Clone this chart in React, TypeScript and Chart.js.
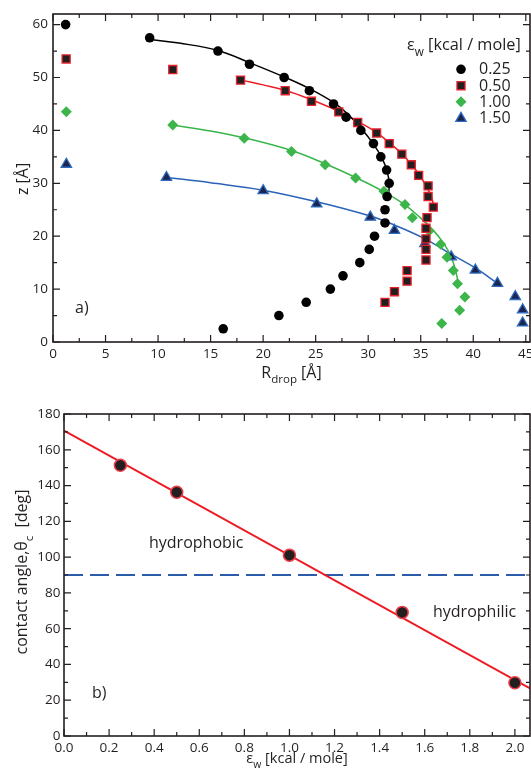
import React, { useEffect, useRef } from 'react';
import { Chart, registerables } from 'chart.js';

Chart.register(...registerables);

const FONT = "'Open Sans', sans-serif";
const INK = '#231f20';

// ---------- Panel a) : droplet profiles z vs R_drop ----------
const z025 = [60, 57.5, 55, 52.5, 50, 47.5, 45, 42.5, 40, 37.5, 35, 32.5, 30, 27.5, 25, 22.5, 20, 17.5, 15, 12.5, 10, 7.5, 5, 2.5];
const r025 = [1.2, 9.2, 15.7, 18.7, 22.0, 24.4, 26.7, 27.9, 29.3, 30.5, 31.2, 31.75, 32.0, 31.8, 31.6, 31.6, 30.6, 30.1, 29.2, 27.6, 26.4, 24.1, 21.5, 16.2];

const z050 = [53.5, 51.5, 49.5, 47.5, 45.5, 43.5, 41.5, 39.5, 37.5, 35.5, 33.5, 31.5, 29.5, 27.5, 25.5, 23.5, 21.5, 19.5, 17.5, 15.5, 13.5, 11.5, 9.5, 7.5];
const r050 = [1.25, 11.4, 17.85, 22.1, 24.6, 27.2, 29.0, 30.8, 32.0, 33.2, 34.1, 34.8, 35.7, 35.7, 36.2, 35.6, 35.5, 35.5, 35.5, 35.5, 33.7, 33.7, 32.5, 31.6];

const z100 = [43.5, 41, 38.5, 36, 33.5, 31, 28.5, 26, 23.5, 21, 18.5, 16, 13.5, 11, 8.5, 6, 3.5];
const r100 = [1.27, 11.4, 18.2, 22.7, 25.9, 28.8, 31.5, 33.5, 34.2, 35.8, 36.9, 37.5, 38.1, 38.5, 39.2, 38.7, 37.0];

const z150 = [33.6, 31.1, 28.6, 26.1, 23.6, 21.1, 18.6, 16.1, 13.6, 11.1, 8.6, 6.1, 3.6];
const r150 = [1.27, 10.8, 20.0, 25.1, 30.2, 32.5, 35.4, 37.9, 40.2, 42.3, 44.0, 44.7, 44.7];

// fitted profile curves
const fitR025 = [9.2, 12.0, 15.7, 18.7, 22.0, 24.4, 26.7, 28.0, 29.4, 30.5, 31.3, 31.8, 32.0, 31.9];
const fitZ025 = [57.2, 56.5, 55.1, 52.8, 50.1, 47.9, 45.3, 43.2, 40.2, 37.4, 34.8, 32.3, 29.8, 27.3];
const fitR050 = [17.9, 20.0, 22.1, 24.6, 27.2, 29.0, 30.8, 32.0, 33.2, 34.1, 34.9, 35.5, 36.0, 36.3];
const fitZ050 = [49.5, 48.6, 47.6, 45.8, 43.6, 41.7, 39.6, 37.7, 35.6, 33.6, 31.5, 29.5, 27.5, 25.3];
const fitR100 = [11.4, 15.0, 18.2, 22.7, 25.9, 28.8, 31.3, 33.3, 34.9, 36.2, 37.2, 37.9, 38.3, 38.6];
const fitZ100 = [41.0, 39.9, 38.6, 36.2, 33.7, 31.1, 28.6, 26.2, 23.6, 21.1, 18.6, 16.1, 13.6, 11.0];
const fitR150 = [10.8, 15.0, 20.0, 25.1, 30.2, 32.5, 35.4, 37.9, 40.2, 42.3];
const fitZ150 = [31.1, 30.1, 28.7, 26.5, 23.8, 22.1, 19.5, 16.6, 14.0, 11.1];

const seriesLabels = ['0.25', '0.50', '1.00', '1.50'];
const topXTicks = [0, 5, 10, 15, 20, 25, 30, 35, 40, 45];
const topYTicks = [0, 10, 20, 30, 40, 50, 60];

// ---------- Panel b) : contact angle vs eps_w ----------
const epsW = [0.25, 0.5, 1.0, 1.5, 2.0];
const theta = [151.3, 136.3, 101.1, 69.1, 29.8];
const fitEps = [0, 2.07];
const fitTheta = [170.7, 26.4];
const neutralEps = [0, 2.07];
const neutralTheta = [90, 90];
const botXTicks = [0, 0.2, 0.4, 0.6, 0.8, 1.0, 1.2, 1.4, 1.6, 1.8, 2.0];
const botYTicks = [0, 20, 40, 60, 80, 100, 120, 140, 160, 180];

const pts = (xs: number[], ys: number[]) => xs.map((x, i) => ({ x, y: ys[i] }));

type Part = { t: string; sub?: boolean };
function drawParts(ctx: CanvasRenderingContext2D, parts: Part[], x: number, y: number, size: number, align: 'left' | 'center') {
  const subSize = size * 0.72;
  const widths = parts.map((p) => {
    ctx.font = `${p.sub ? subSize : size}px ${FONT}`;
    return ctx.measureText(p.t).width;
  });
  const total = widths.reduce((s, w) => s + w, 0);
  let cx = align === 'center' ? x - total / 2 : x;
  ctx.textAlign = 'left';
  ctx.textBaseline = 'alphabetic';
  parts.forEach((p, i) => {
    ctx.font = `${p.sub ? subSize : size}px ${FONT}`;
    ctx.fillText(p.t, cx, p.sub ? y + size * 0.35 : y);
    cx += widths[i];
  });
}

function minorOf(majors: number[], step: number, min: number, max: number) {
  const out: number[] = [];
  const cand = [majors[0] - step / 2, ...majors.map((v) => v + step / 2)];
  cand.forEach((v) => {
    if (v > min + 1e-9 && v < max - 1e-9) out.push(v);
  });
  return out;
}

function framePlugin(xMajor: number[], xStep: number, yMajor: number[], yStep: number, extra: (chart: any, ctx: CanvasRenderingContext2D) => void) {
  return {
    id: 'frame',
    afterDraw(chart: any) {
      const { ctx, chartArea: a, scales } = chart;
      const xs = scales.x;
      const ys = scales.y;
      ctx.save();
      ctx.strokeStyle = INK;
      ctx.lineWidth = 1.2;
      const xMinor = minorOf(xMajor, xStep, xs.min, xs.max);
      const yMinor = minorOf(yMajor, yStep, ys.min, ys.max);
      const drawX = (vals: number[], len: number) => {
        vals.forEach((v) => {
          const px = xs.getPixelForValue(v);
          ctx.beginPath();
          ctx.moveTo(px, a.bottom);
          ctx.lineTo(px, a.bottom - len);
          ctx.moveTo(px, a.top);
          ctx.lineTo(px, a.top + len);
          ctx.stroke();
        });
      };
      const drawY = (vals: number[], len: number) => {
        vals.forEach((v) => {
          const py = ys.getPixelForValue(v);
          ctx.beginPath();
          ctx.moveTo(a.left, py);
          ctx.lineTo(a.left + len, py);
          ctx.moveTo(a.right, py);
          ctx.lineTo(a.right - len, py);
          ctx.stroke();
        });
      };
      drawX(xMajor, 7);
      drawX(xMinor, 4);
      drawY(yMajor, 7);
      drawY(yMinor, 4);
      ctx.lineWidth = 1.6;
      ctx.strokeRect(a.left, a.top, a.right - a.left, a.bottom - a.top);
      ctx.fillStyle = INK;
      extra(chart, ctx);
      ctx.restore();
    },
  };
}

function axisCfg(min: number, max: number, ticks: number[], size: number, padding: number, isX: boolean, fmt?: (v: number) => string) {
  return {
    type: 'linear' as const,
    min,
    max,
    grid: { display: false, drawTicks: false },
    border: { display: false },
    ticks: {
      font: { family: FONT, size: 13.5 },
      color: INK,
      padding,
      autoSkip: false,
      maxRotation: 0,
      includeBounds: false,
      callback: (v: any) => (fmt ? fmt(Number(v)) : String(v)),
    },
    afterBuildTicks: (s: any) => {
      s.ticks = ticks.map((value) => ({ value }));
    },
    afterFit: (s: any) => {
      if (isX) s.height = size;
      else s.width = size;
      s.paddingLeft = 0;
      s.paddingRight = 0;
      s.paddingTop = 0;
      s.paddingBottom = 0;
    },
  };
}

export default function App() {
  const topRef = useRef<HTMLCanvasElement>(null);
  const botRef = useRef<HTMLCanvasElement>(null);

  useEffect(() => {
    const markerColors = [
      { style: 'circle', r: 4.8, fill: '#000000', stroke: '#000000', bw: 0 },
      { style: 'rect', r: 5.7, fill: '#231f20', stroke: '#e8222b', bw: 1.3 },
      { style: 'rectRot', r: 5.5, fill: '#3cb54a', stroke: '#3cb54a', bw: 0 },
      { style: 'triangle', r: 6.0, fill: '#1b2550', stroke: '#2f6cc0', bw: 1.3 },
    ];
    const markerSets = [pts(r025, z025), pts(r050, z050), pts(r100, z100), pts(r150, z150)];
    const fits = [
      { d: pts(fitR025, fitZ025), c: '#000000' },
      { d: pts(fitR050, fitZ050), c: '#ed1c24' },
      { d: pts(fitR100, fitZ100), c: '#39b54a' },
      { d: pts(fitR150, fitZ150), c: '#2a62b8' },
    ];

    const topDatasets: any[] = [
      ...markerSets.map((d, i) => ({
        label: seriesLabels[i],
        data: d,
        showLine: false,
        pointStyle: markerColors[i].style,
        pointRadius: markerColors[i].r,
        pointBackgroundColor: markerColors[i].fill,
        pointBorderColor: markerColors[i].stroke,
        pointBorderWidth: markerColors[i].bw,
      })),
      ...fits.map((f) => ({
        label: 'fit',
        data: f.d,
        showLine: true,
        pointRadius: 0,
        borderColor: f.c,
        borderWidth: 1.5,
        tension: 0.4,
        fill: false,
      })),
    ];

    const drawLegendMarker = (ctx: CanvasRenderingContext2D, i: number, x: number, y: number) => {
      const m = markerColors[i];
      ctx.beginPath();
      if (m.style === 'circle') {
        ctx.arc(x, y, m.r, 0, Math.PI * 2);
      } else if (m.style === 'rect') {
        const s = m.r * Math.SQRT1_2;
        ctx.rect(x - s, y - s, 2 * s, 2 * s);
      } else if (m.style === 'rectRot') {
        ctx.moveTo(x, y - m.r);
        ctx.lineTo(x + m.r, y);
        ctx.lineTo(x, y + m.r);
        ctx.lineTo(x - m.r, y);
        ctx.closePath();
      } else {
        ctx.moveTo(x, y - m.r);
        ctx.lineTo(x + m.r * Math.sin((2 * Math.PI) / 3), y - m.r * Math.cos((2 * Math.PI) / 3));
        ctx.lineTo(x + m.r * Math.sin((4 * Math.PI) / 3), y - m.r * Math.cos((4 * Math.PI) / 3));
        ctx.closePath();
      }
      ctx.fillStyle = m.fill;
      ctx.fill();
      if (m.bw > 0) {
        ctx.lineWidth = m.bw;
        ctx.strokeStyle = m.stroke;
        ctx.stroke();
      }
    };

    const topExtra = (chart: any, ctx: CanvasRenderingContext2D) => {
      const a = chart.chartArea;
      ctx.fillStyle = INK;
      // x title
      drawParts(ctx, [{ t: 'R' }, { t: 'drop', sub: true }, { t: ' [Å]' }], (a.left + a.right) / 2, 377.5, 16, 'center');
      // y title
      ctx.save();
      ctx.translate(28, (a.top + a.bottom) / 2 + 1);
      ctx.rotate(-Math.PI / 2);
      drawParts(ctx, [{ t: 'z [Å]' }], 0, 0, 16, 'center');
      ctx.restore();
      // panel label
      ctx.font = `16px ${FONT}`;
      ctx.textAlign = 'left';
      ctx.textBaseline = 'middle';
      ctx.fillText('a)', 75, 308);
      // legend
      drawParts(ctx, [{ t: 'ε' }, { t: 'w', sub: true }, { t: ' [kcal / mole]' }], 407, 50, 16.3, 'left');
      const ly = [69.3, 85.7, 101.7, 118.3];
      seriesLabels.forEach((lab, i) => {
        drawLegendMarker(ctx, i, 461, ly[i]);
        ctx.fillStyle = INK;
        ctx.font = `16px ${FONT}`;
        ctx.textAlign = 'left';
        ctx.textBaseline = 'middle';
        ctx.fillText(lab, 479, ly[i] + 0.5);
      });
    };

    const c1 = new Chart(topRef.current!, {
      type: 'scatter',
      data: { datasets: topDatasets },
      options: {
        animation: false,
        responsive: false,
        devicePixelRatio: 1,
        events: [],
        layout: { padding: { top: 14, right: 1, left: 0, bottom: 0 }, autoPadding: false },
        plugins: { legend: { display: false }, tooltip: { enabled: false } },
        scales: {
          x: axisCfg(0, 45.4, topXTicks, 53, 4, true),
          y: axisCfg(0, 62, topYTicks, 53, 5, false),
        } as any,
      },
      plugins: [framePlugin(topXTicks, 5, topYTicks, 10, topExtra)],
    } as any);

    const botExtra = (chart: any, ctx: CanvasRenderingContext2D) => {
      const a = chart.chartArea;
      ctx.fillStyle = INK;
      drawParts(ctx, [{ t: 'ε' }, { t: 'w', sub: true }, { t: ' [kcal / mole]' }], (a.left + a.right) / 2, 383, 14.5, 'center');
      ctx.save();
      ctx.translate(27, (a.top + a.bottom) / 2 - 3);
      ctx.rotate(-Math.PI / 2);
      drawParts(ctx, [{ t: 'contact angle,θ' }, { t: 'c', sub: true }, { t: '  [deg]' }], 0, 0, 16, 'center');
      ctx.restore();
      ctx.font = `16px ${FONT}`;
      ctx.textAlign = 'left';
      ctx.textBaseline = 'middle';
      ctx.fillText('hydrophobic', 149, 163);
      ctx.fillText('hydrophilic', 433, 232);
      ctx.fillText('b)', 92, 313);
    };

    const c2 = new Chart(botRef.current!, {
      type: 'scatter',
      data: {
        datasets: [
          {
            label: 'theta',
            data: pts(epsW, theta),
            showLine: false,
            pointStyle: 'circle',
            pointRadius: 6,
            pointBackgroundColor: '#231f20',
            pointBorderColor: '#ee3d48',
            pointBorderWidth: 1.5,
          },
          {
            label: 'fit',
            data: pts(fitEps, fitTheta),
            showLine: true,
            pointRadius: 0,
            borderColor: '#ed1c24',
            borderWidth: 2,
            fill: false,
          },
          {
            label: '90',
            data: pts(neutralEps, neutralTheta),
            showLine: true,
            pointRadius: 0,
            borderColor: '#2b5ca9',
            borderWidth: 2,
            borderDash: [19, 7],
            fill: false,
          },
        ],
      },
      options: {
        animation: false,
        responsive: false,
        devicePixelRatio: 1,
        events: [],
        layout: { padding: { top: 34, right: 1, left: 0, bottom: 0 }, autoPadding: false },
        plugins: { legend: { display: false }, tooltip: { enabled: false } },
        scales: {
          x: axisCfg(0, 2.067, botXTicks, 39, 4, true, (v) => v.toFixed(1)),
          y: axisCfg(0, 180, botYTicks, 64, 3.5, false),
        } as any,
      },
      plugins: [framePlugin(botXTicks, 0.2, botYTicks, 20, botExtra)],
    } as any);

    return () => {
      c1.destroy();
      c2.destroy();
    };
  }, []);

  return (
    <div style={{ position: 'absolute', left: 0, top: 0, width: 531, height: 775, background: '#ffffff' }}>
      <canvas ref={topRef} width={531} height={395} style={{ position: 'absolute', left: 0, top: 0 }} />
      <canvas ref={botRef} width={531} height={395} style={{ position: 'absolute', left: 0, top: 380 }} />
    </div>
  );
}
